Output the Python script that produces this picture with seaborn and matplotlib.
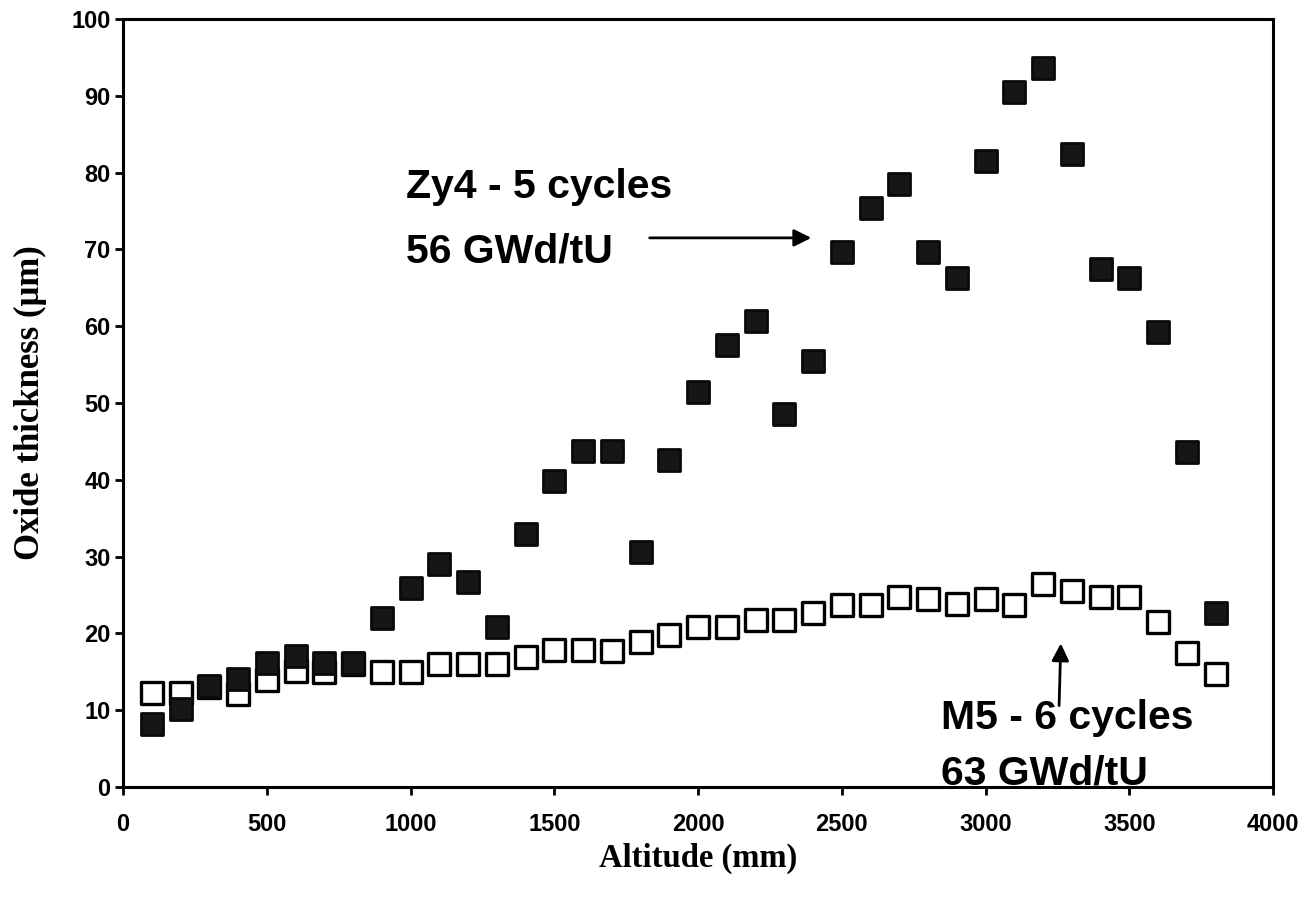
import matplotlib
matplotlib.use("Agg")
import matplotlib.pyplot as plt
import seaborn as sns
import pandas as pd

# ---- data ----
altitude = list(range(100, 3900, 100))
zy4 = [8.2, 10.1, 13.1, 14.0, 16.2, 17.0, 16.1, 16.1, 22.0, 25.9,
       29.0, 26.7, 20.8, 32.9, 39.9, 43.8, 43.8, 30.6, 42.6, 51.4,
       57.6, 60.7, 48.6, 55.5, 69.6, 75.4, 78.5, 69.6, 66.3, 81.5,
       90.5, 93.6, 82.4, 67.4, 66.3, 59.3, 43.6, 22.7]
m5 = [12.2, 12.3, 13.0, 12.1, 13.9, 15.1, 15.0, 16.0, 15.0, 15.0,
      16.0, 16.0, 16.0, 16.9, 17.8, 17.8, 17.7, 18.9, 19.8, 20.8,
      20.8, 21.7, 21.7, 22.7, 23.7, 23.7, 24.7, 24.5, 23.8, 24.5,
      23.7, 26.4, 25.5, 24.7, 24.7, 21.5, 17.5, 14.7]
x_ticks = [0, 500, 1000, 1500, 2000, 2500, 3000, 3500, 4000]
y_ticks = [0, 10, 20, 30, 40, 50, 60, 70, 80, 90, 100]

df_zy4 = pd.DataFrame({"Altitude": altitude, "Oxide": zy4})
df_m5 = pd.DataFrame({"Altitude": altitude, "Oxide": m5})

sns.set_style("ticks")
plt.rcParams['font.family'] = ['Liberation Sans', 'DejaVu Sans']
plt.rcParams['text.color'] = 'black'
plt.rcParams['axes.labelcolor'] = 'black'
plt.rcParams['xtick.color'] = 'black'
plt.rcParams['ytick.color'] = 'black'

fig = plt.figure(figsize=(13.04, 9.01), dpi=100)
ax = fig.add_axes([123/1304, 1 - 787/901, 1150/1304, 768/901])

sns.scatterplot(data=df_m5, x="Altitude", y="Oxide", ax=ax, marker="s", s=260,
                color="white", edgecolor="black", linewidth=2.4, zorder=3, legend=False)
sns.scatterplot(data=df_zy4, x="Altitude", y="Oxide", ax=ax, marker="s", s=260,
                color="#161616", edgecolor="#0a0a0a", linewidth=2.0, zorder=4, legend=False)

ax.set_xlim(0, 4000)
ax.set_ylim(0, 100)
ax.set_xticks(x_ticks)
ax.set_yticks(y_ticks)
ax.set_xticklabels([str(t) for t in x_ticks], fontsize=17, fontweight='bold', color='black')
ax.set_yticklabels([str(t) for t in y_ticks], fontsize=17, fontweight='bold', color='black')
ax.tick_params(axis='x', direction='out', length=6, width=2, pad=13, colors='black')
ax.tick_params(axis='y', direction='out', length=6, width=2, pad=3, colors='black')
for sp in ax.spines.values():
    sp.set_visible(True)
    sp.set_linewidth(2.2)
    sp.set_color('black')

ax.set_xlabel("Altitude (mm)", fontsize=23.5, fontweight='bold', family='Liberation Serif',
              color='black')
ax.set_ylabel("Oxide thickness (\u03bcm)", fontsize=25, fontweight='bold',
              family='Liberation Serif', color='black')
ax.xaxis.set_label_coords(0.5, -0.072)
ax.yaxis.set_label_coords(-0.066, 0.5)

# annotations
afs = 29.5
ax.text(985, 76.7, "Zy4 - 5 cycles", fontsize=afs, fontweight='bold', va='baseline', ha='left',
        color='black')
ax.text(985, 68.3, "56 GWd/tU", fontsize=afs, fontweight='bold', va='baseline', ha='left',
        color='black')
ax.annotate("", xy=(2394, 71.5), xytext=(1832, 71.5),
            arrowprops=dict(arrowstyle='-|>', lw=2, color='black', mutation_scale=26,
                            shrinkA=0, shrinkB=0))
ax.text(2845, 7.6, "M5 - 6 cycles", fontsize=afs, fontweight='bold', va='baseline', ha='left',
        color='black', zorder=5)
ax.text(2845, 0.3, "63 GWd/tU", fontsize=afs, fontweight='bold', va='baseline', ha='left',
        color='black', clip_on=False, zorder=5)
ax.annotate("", xy=(3262, 18.7), xytext=(3256, 10.6),
            arrowprops=dict(arrowstyle='-|>', lw=2, color='black', mutation_scale=26,
                            shrinkA=0, shrinkB=0))

fig.savefig("out.png", dpi=100, facecolor='white')
